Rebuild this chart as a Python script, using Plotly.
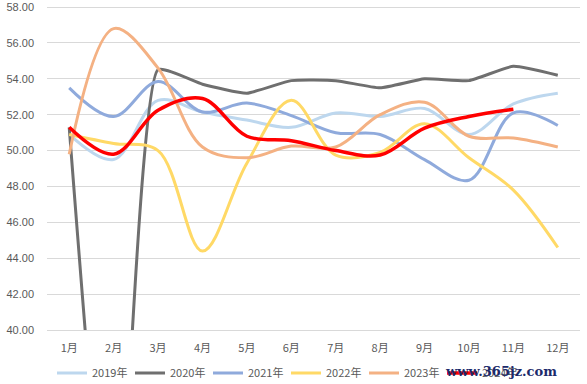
import plotly.graph_objects as go

months = ["1月", "2月", "3月", "4月", "5月", "6月", "7月", "8月", "9月", "10月", "11月", "12月"]
y2019 = [50.9, 49.5, 52.8, 52.15, 51.7, 51.3, 52.1, 51.9, 52.35, 50.9, 52.6, 53.2]
y2020 = [51.3, 23.8, 54.5, 53.7, 53.2, 53.9, 53.9, 53.5, 54.0, 53.9, 54.7, 54.2]
y2021 = [53.5, 51.9, 53.85, 52.15, 52.65, 51.95, 51.0, 50.9, 49.5, 48.35, 52.1, 51.4]
y2022 = [50.9, 50.4, 50.0, 44.4, 49.3, 52.8, 49.75, 49.9, 51.5, 49.6, 47.8, 44.6]
y2023 = [49.8, 56.8, 54.6, 50.2, 49.6, 50.25, 50.2, 52.0, 52.7, 50.8, 50.7, 50.2]
y2024 = [51.3, 49.8, 52.25, 52.9, 50.8, 50.55, 50.0, 49.75, 51.25, 51.9, 52.3, None]
y_ticks = [40, 42, 44, 46, 48, 50, 52, 54, 56, 58]

series = [
    ("2019年", y2019, "#BDD7EE", 3, 1.0),
    ("2020年", y2020, "#6F6F6F", 3, 0.45),
    ("2021年", y2021, "#8FAADC", 3, 1.0),
    ("2022年", y2022, "#FFD966", 3, 1.0),
    ("2023年", y2023, "#F4B183", 3, 1.0),
    ("2024年", y2024, "#FF0000", 3.5, 1.0),
]

fig = go.Figure()
for name, vals, color, w, sm in series:
    fig.add_trace(go.Scatter(
        x=months, y=vals, name=name, mode="lines",
        line=dict(color=color, width=w, shape="spline", smoothing=sm),
        connectgaps=False,
    ))

font_family = "Noto Sans CJK SC, Noto Sans, sans-serif"
fig.update_layout(
    width=587, height=384,
    margin=dict(l=47, r=7, t=6, b=54, autoexpand=False),
    paper_bgcolor="white", plot_bgcolor="white",
    font=dict(family=font_family, size=11, color="#595959"),
    showlegend=True,
    legend=dict(orientation="h", x=52 / 587, xanchor="left", xref="container",
                y=1 - 373 / 384, yanchor="middle", yref="container",
                font=dict(size=11, color="#595959"), itemwidth=30, traceorder="normal",
                entrywidth=33, entrywidthmode="pixels", bgcolor="rgba(0,0,0,0)"),
    xaxis=dict(type="category", range=[-0.5, 11.5], showgrid=False, showline=True,
               linecolor="#D9D9D9", linewidth=1, ticks="", tickfont=dict(size=11),
               ticklabelstandoff=8, automargin=False),
    yaxis=dict(range=[40, 58.06], tickvals=y_ticks, tickformat=".2f", showgrid=True,
               gridcolor="#D9D9D9", gridwidth=1, zeroline=False, showline=False, ticks="",
               tickfont=dict(size=11, family="Liberation Sans, Noto Sans, sans-serif"),
               ticklabelstandoff=12, automargin=False, ticklabelposition="outside"),
)

fig.add_annotation(
    x=(559 - 47) / 533, xref="paper", xanchor="right", y=(330 - 372) / 324, yref="paper",
    yanchor="middle", text="<b>www.365jz.com</b>", showarrow=False,
    font=dict(family="DejaVu Serif, serif", size=13, color="#1C2A6B"),
)

fig.write_html("out.html", post_script="document.body.style.margin='0';",
               config={"displayModeBar": False})
